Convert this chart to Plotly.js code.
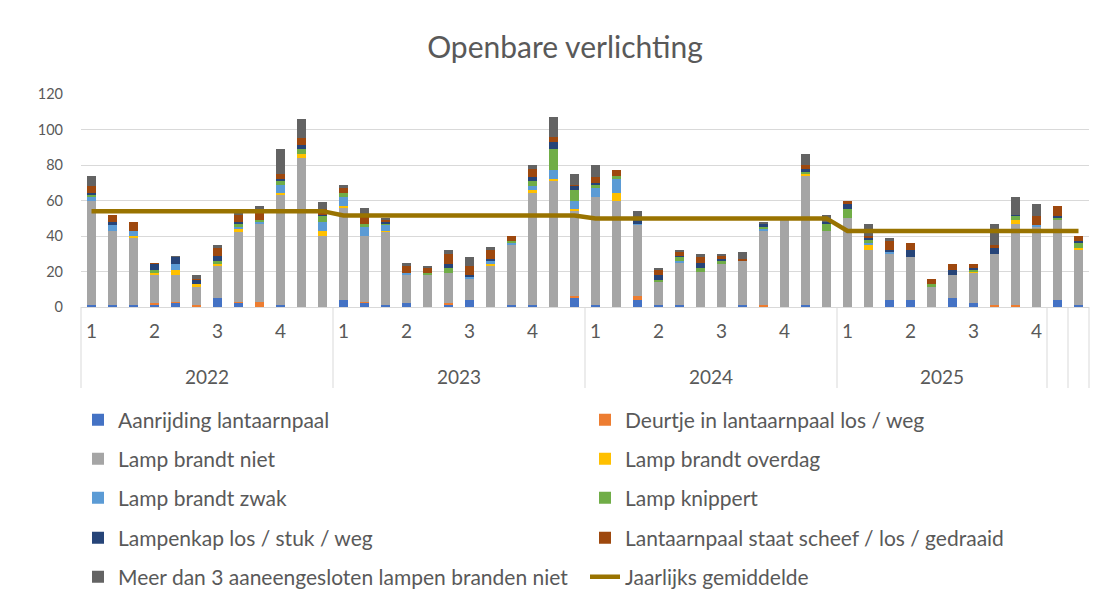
<!DOCTYPE html>
<html><head><meta charset="utf-8">
<script src="https://cdn.plot.ly/plotly-3.0.1.min.js"></script>
<style>html,body{margin:0;padding:0;background:#fff;} #chart{width:1102px;height:605px;}</style>
</head><body><div id="chart"></div>
<script>
// ---- data ----
const quarterLabels = [
  "1","","","2","","","3","","","4","","",
  "1","","","2","","","3","","","4","","",
  "1","","","2","","","3","","","4","","",
  "1","","","2","","","3","","","4",
  "",""
];
const yearLabels = ["2022","2023","2024","2025","",""];
const yearSizes = [12,12,12,10,1,1];
const yearlyAverage = [54.0, 51.6, 49.9, 42.8];
const averageSpan = [12,12,12,12];

const aanrijding = [1,1,1,1,2,0,5,2,0,1,0,0, 4,2,1,2,0,1,4,0,1,1,0,5, 1,0,4,1,1,0,0,1,0,0,1,0, 0,0,4,4,0,5,2,0,0,0,4,1];
const deurtje    = [0,0,0,1,1,1,0,1,3,0,0,0, 0,1,0,0,0,1,0,0,0,0,0,1, 0,0,2,0,0,0,0,0,1,0,0,0, 0,0,0,0,0,0,0,1,1,0,0,0];
const brandtNiet = [59,42,38,16,15,10,18,39,44,62,84,40, 52,37,41,16,18,17,12,23,34,63,71,48, 61,60,40,13,24,20,24,25,42,49,73,43, 50,32,26,24,11,13,17,29,46,45,45,31];
const overdag    = [0,0,1,1,3,2,1,2,0,1,2,3, 1,0,1,0,0,0,0,1,0,2,1,1, 0,4,0,0,0,0,0,0,0,0,1,0, 0,3,0,0,0,0,1,0,2,0,0,1];
const zwak       = [2,3,3,0,3,0,0,1,1,5,0,5, 5,5,3,1,0,0,1,2,1,2,5,5, 5,8,1,0,1,0,0,0,1,0,0,0, 0,1,1,0,0,0,0,0,0,1,0,0];
const knippert   = [1,0,0,2,0,0,2,2,1,2,3,3, 2,2,1,0,1,3,0,0,1,3,12,6, 2,2,0,1,2,2,2,0,1,0,1,4, 5,2,0,0,2,0,1,0,2,0,1,3];
const lampenkap  = [1,2,0,3,4,2,3,1,0,1,2,1, 0,0,1,0,0,2,1,1,0,2,4,2, 1,0,2,3,1,3,1,0,2,0,2,1, 3,1,1,4,0,3,1,3,1,0,1,1];
const scheef     = [4,4,5,1,0,1,4,4,5,3,4,3, 3,5,1,4,3,6,5,5,3,5,3,1, 3,3,0,3,2,3,2,1,0,0,2,0, 2,1,5,4,3,3,2,2,0,5,6,3];
const meerDan3   = [6,0,0,0,1,2,2,1,3,14,11,4, 2,4,1,2,1,2,5,2,0,2,11,6, 7,0,5,1,1,2,1,4,1,0,6,4, 0,7,2,0,0,0,0,12,10,7,0,0];

const seriesNames = [
  "Aanrijding lantaarnpaal","Deurtje in lantaarnpaal los / weg",
  "Lamp brandt niet","Lamp brandt overdag",
  "Lamp brandt zwak","Lamp knippert",
  "Lampenkap los / stuk / weg","Lantaarnpaal staat scheef / los / gedraaid",
  "Meer dan 3 aaneengesloten lampen branden niet"
];
const seriesValues = [aanrijding,deurtje,brandtNiet,overdag,zwak,knippert,lampenkap,scheef,meerDan3];
const seriesColors = ["#4472C4","#ED7D31","#A5A5A5","#FFC000","#5B9BD5","#70AD47","#264478","#9E480E","#636363"];
const lineName = "Jaarlijks gemiddelde";

// ---- build ----
const xs = quarterLabels.map((_, i) => i);
const avgLine = [];
yearlyAverage.forEach((v, k) => { for (let j = 0; j < averageSpan[k]; j++) avgLine.push(v); });

const FONT = "Lato, 'Open Sans', sans-serif";
const TXT = "#595959";
const legendKey = k => (k === 0 ? "legend" : "legend" + (k + 1));
const traces = seriesValues.map((vals, k) => ({
  type: "bar", x: xs, y: vals, name: seriesNames[k],
  marker: {color: seriesColors[k], line: {width: 0}},
  legend: legendKey(k), showlegend: true, hoverinfo: "skip"
}));
traces.push({
  type: "scatter", mode: "lines", x: xs, y: avgLine, name: lineName,
  line: {color: "#997300", width: 4.5}, legend: legendKey(9), showlegend: true, hoverinfo: "skip"
});

const W = 1102, H = 605;
const plotTop = 94, plotBottom = 307;
const plotH = plotBottom - plotTop;
const n = xs.length;

const shapes = [];
const annotations = [];
let start = 0;
const bounds = [0];
yearSizes.forEach((s, k) => {
  const end = start + s;
  annotations.push({
    xref: "x", yref: "paper", x: (start + end - 1) / 2, y: -(376 - plotBottom) / plotH,
    text: yearLabels[k], showarrow: false, yanchor: "middle", xanchor: "center",
    font: {family: FONT, size: 19, color: TXT}
  });
  bounds.push(end);
  start = end;
});
bounds.forEach(b => {
  shapes.push({
    type: "line", xref: "paper", yref: "paper", x0: b / n, x1: b / n,
    y0: 0, y1: -(388 - plotBottom) / plotH, line: {color: "#D9D9D9", width: 1}
  });
});

const layout = {
  width: W, height: H,
  paper_bgcolor: "#fff", plot_bgcolor: "#fff",
  margin: {l: 81, r: 13, t: plotTop, b: H - plotBottom, autoexpand: false},
  barmode: "stack", bargap: 0.6,
  title: {text: "Openbare verlichting", x: 565 / W, xref: "container", xanchor: "center",
          y: 1 - 47 / H, yref: "container", yanchor: "middle",
          font: {family: FONT, size: 30, color: TXT}},
  xaxis: {range: [-0.5, n - 0.5], tickmode: "array", tickvals: xs, ticktext: quarterLabels,
          showgrid: false, zeroline: false, showline: true, linecolor: "#D9D9D9", linewidth: 1,
          ticks: "", ticklabelstandoff: 7, tickfont: {family: FONT, size: 19, color: TXT}, fixedrange: true},
  yaxis: {range: [0, 120], dtick: 20, showgrid: true, gridcolor: "#D9D9D9", gridwidth: 1,
          zeroline: false, showline: false, ticks: "", ticklabelstandoff: 17,
          tickfont: {family: FONT, size: 14.5, color: TXT}, fixedrange: true},
  shapes: shapes, annotations: annotations, hovermode: false
};
const legendRows = [420, 459, 498, 538, 577];
const legendCols = [78, 585];
for (let k = 0; k < 10; k++) {
  layout[legendKey(k)] = {
    orientation: "v", xref: "container", yref: "container",
    x: legendCols[k % 2] / W, xanchor: "left",
    y: 1 - legendRows[Math.floor(k / 2)] / H, yanchor: "middle",
    bgcolor: "rgba(0,0,0,0)", borderwidth: 0,
    font: {family: FONT, size: 21, color: TXT}
  };
}

Plotly.newPlot("chart", traces, layout, {displayModeBar: false, staticPlot: true});
</script></body></html>
